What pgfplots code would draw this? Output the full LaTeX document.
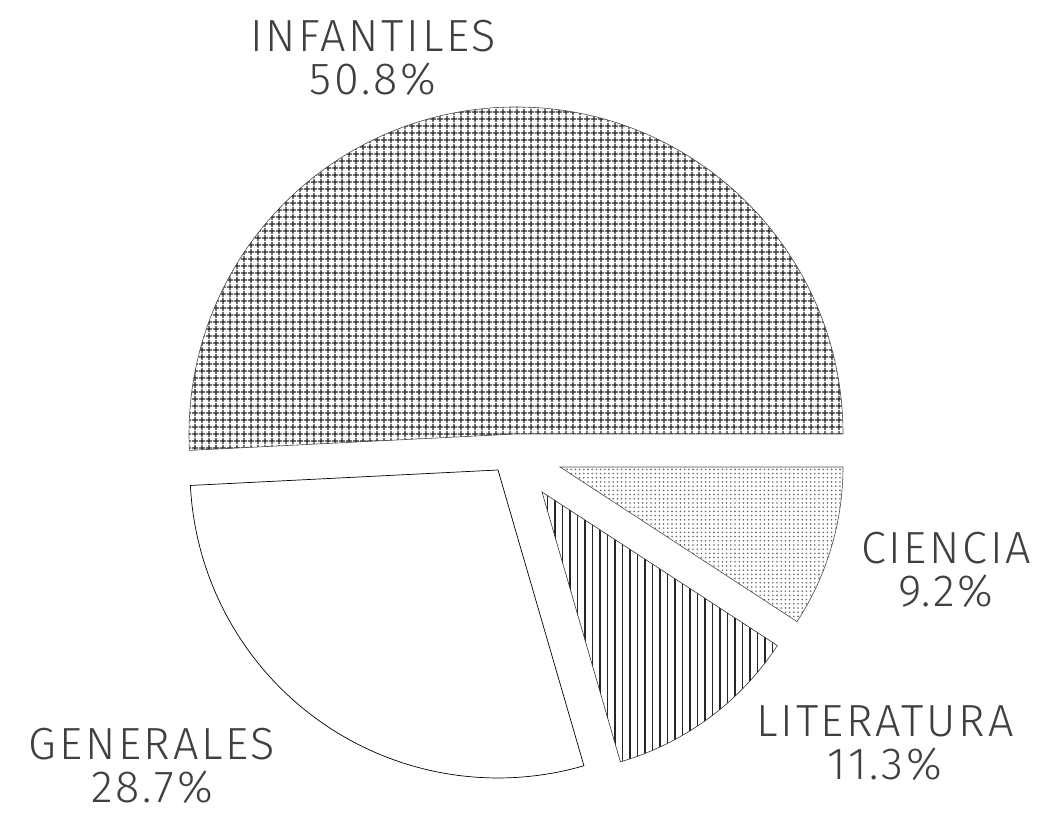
\documentclass[border=0pt]{standalone}
\usepackage{fontspec}
\setmainfont{Fira Sans Light}[LetterSpace=6]
\usepackage{pgfplots}
\pgfplotsset{compat=1.18}
\usetikzlibrary{patterns.meta}

% slice: apex x, apex y, radius, start angle, percent, style
\newcommand{\slice}[6]{%
  \filldraw[#6] (axis cs:#1,#2) -- ++(#4:#3pt)
    arc[start angle=#4, delta angle={3.6*#5}, radius=#3pt] -- cycle;}

\begin{document}
\begin{tikzpicture}
\begin{axis}[
    width=1045pt, height=818pt, scale only axis,
    xmin=0, xmax=1045, ymin=0, ymax=818,
    hide axis, clip=false]
\path (axis cs:0,0) rectangle (axis cs:1045,818);
% INFANTILES 50.8, GENERALES 28.7, LITERATURA 11.3, CIENCIA 9.2
\slice{516}{384}{327}{0}{50.8}{draw=black!70, line width=0.6pt,
    pattern={Hatch[distance=6.5pt, angle=0, line width=1.3pt]}, pattern color=black!85}
\slice{498}{348}{308}{182.88}{28.7}{draw=black, line width=0.7pt, fill=white}
\slice{542}{326}{281}{286.2}{11.3}{draw=black!80, line width=0.6pt,
    pattern={Lines[distance=7.5pt, angle=90, line width=1.7pt]}, pattern color=black!85}
\slice{560}{351}{283}{326.88}{9.2}{draw=black!70, line width=0.6pt,
    pattern={Dots[distance=4.2pt, radius=0.9pt]}, pattern color=black!60}
\begin{scope}[every node/.style={font=\fontsize{45}{43}\selectfont, text=black!75,
    inner sep=0pt, align=center}]
\node at (axis cs:373,760) {INFANTILES\\50.8\%};
\node at (axis cs:946,248) {CIENCIA\\9.2\%};
\node at (axis cs:885,75) {LITERATURA\\11.3\%};
\node at (axis cs:152,52) {GENERALES\\28.7\%};
\end{scope}
\end{axis}
\end{tikzpicture}
\end{document}
